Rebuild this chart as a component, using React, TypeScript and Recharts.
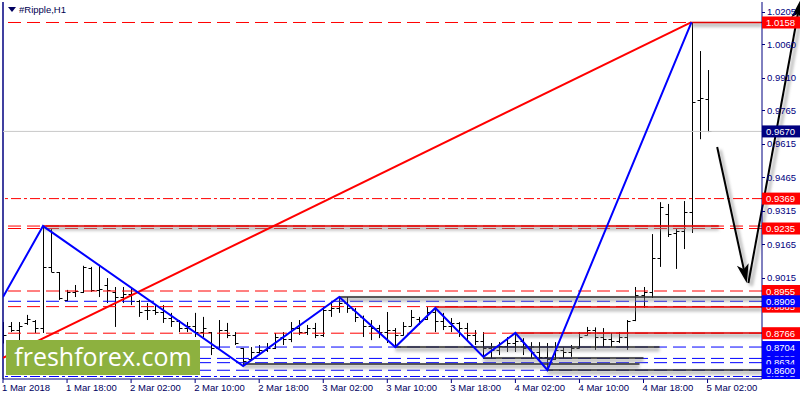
import React from 'react';
import { ComposedChart, Bar, Line, XAxis, YAxis, ReferenceLine } from 'recharts';

// ---------- data ----------
const opens = [
  0.8790, 0.8800, 0.8780, 0.8810, 0.8820, 0.8790, 0.9063, 0.9040, 0.8915, 0.8950,
  0.8950, 0.9059, 0.8960, 0.8980, 0.8950, 0.8930, 0.8940, 0.8910, 0.8870, 0.8870,
  0.8860, 0.8835, 0.8820, 0.8790, 0.8800, 0.8770, 0.8770, 0.8700, 0.8780, 0.8760,
  0.8700, 0.8650, 0.8680, 0.8690, 0.8700, 0.8750, 0.8740, 0.8790, 0.8770, 0.8790,
  0.8760, 0.8870, 0.8880, 0.8900, 0.8870, 0.8840, 0.8800, 0.8790, 0.8770, 0.8780,
  0.8760, 0.8800, 0.8830, 0.8830, 0.8860, 0.8820, 0.8800, 0.8810, 0.8790, 0.8760,
  0.8730, 0.8700, 0.8690, 0.8710, 0.8720, 0.8730, 0.8700, 0.8680, 0.8660, 0.8650,
  0.8690, 0.8680, 0.8700, 0.8760, 0.8780, 0.8750, 0.8740, 0.8730, 0.8750, 0.8825,
  0.8937, 0.8950, 0.9103, 0.9300, 0.9215, 0.9225, 0.9309, 0.9810, 0.9815,
];
const highs = [
  0.8816, 0.8816, 0.8816, 0.8848, 0.8825, 0.9246, 0.9237, 0.9040, 0.8960, 0.8982,
  0.9068, 0.9063, 0.9072, 0.9013, 0.8973, 0.8973, 0.8969, 0.8915, 0.8901, 0.8892,
  0.8892, 0.8857, 0.8825, 0.8816, 0.8857, 0.8839, 0.8771, 0.8825, 0.8812, 0.8771,
  0.8700, 0.8704, 0.8713, 0.8722, 0.8767, 0.8771, 0.8816, 0.8825, 0.8803, 0.8812,
  0.8883, 0.8906, 0.8928, 0.8928, 0.8879, 0.8845, 0.8825, 0.8803, 0.8861, 0.8789,
  0.8816, 0.8870, 0.8839, 0.8883, 0.8879, 0.8857, 0.8834, 0.8816, 0.8812, 0.8780,
  0.8771, 0.8722, 0.8726, 0.8749, 0.8767, 0.8744, 0.8726, 0.8726, 0.8722, 0.8726,
  0.8704, 0.8713, 0.8771, 0.8794, 0.8792, 0.8789, 0.8767, 0.8771, 0.8825, 0.8973,
  0.8973, 0.9210, 0.9353, 0.9345, 0.9237, 0.9358, 1.0160, 1.0030, 0.9945,
];
const lows = [
  0.8720, 0.8771, 0.8735, 0.8803, 0.8767, 0.8767, 0.9040, 0.8915, 0.8910, 0.8928,
  0.8946, 0.8951, 0.8928, 0.8901, 0.8794, 0.8901, 0.8892, 0.8839, 0.8825, 0.8848,
  0.8812, 0.8794, 0.8771, 0.8771, 0.8749, 0.8749, 0.8668, 0.8700, 0.8744, 0.8713,
  0.8619, 0.8645, 0.8668, 0.8682, 0.8695, 0.8713, 0.8726, 0.8758, 0.8758, 0.8744,
  0.8749, 0.8839, 0.8857, 0.8857, 0.8816, 0.8749, 0.8735, 0.8744, 0.8722, 0.8704,
  0.8755, 0.8798, 0.8803, 0.8825, 0.8771, 0.8780, 0.8771, 0.8749, 0.8735, 0.8713,
  0.8660, 0.8655, 0.8668, 0.8682, 0.8682, 0.8668, 0.8655, 0.8637, 0.8601, 0.8646,
  0.8655, 0.8660, 0.8698, 0.8755, 0.8691, 0.8704, 0.8704, 0.8722, 0.8691, 0.8820,
  0.8879, 0.8924, 0.9063, 0.9197, 0.9054, 0.9143, 0.9215, 0.9635, 0.9667,
];
const closes = [
  0.8760, 0.8780, 0.8800, 0.8830, 0.8790, 0.9063, 0.9040, 0.8924, 0.8950, 0.8955,
  0.9063, 0.8960, 0.8965, 0.8960, 0.8930, 0.8940, 0.8910, 0.8861, 0.8870, 0.8860,
  0.8835, 0.8820, 0.8790, 0.8800, 0.8770, 0.8790, 0.8700, 0.8780, 0.8760, 0.8720,
  0.8640, 0.8680, 0.8690, 0.8700, 0.8750, 0.8740, 0.8790, 0.8770, 0.8790, 0.8760,
  0.8870, 0.8880, 0.8900, 0.8880, 0.8840, 0.8800, 0.8790, 0.8770, 0.8780, 0.8760,
  0.8800, 0.8840, 0.8820, 0.8860, 0.8820, 0.8800, 0.8810, 0.8790, 0.8760, 0.8730,
  0.8700, 0.8690, 0.8710, 0.8720, 0.8730, 0.8700, 0.8680, 0.8660, 0.8650, 0.8690,
  0.8680, 0.8700, 0.8750, 0.8780, 0.8750, 0.8740, 0.8730, 0.8750, 0.8820, 0.8937,
  0.8950, 0.9103, 0.9331, 0.9210, 0.9225, 0.9309, 0.9802, 0.9820, 0.9670,
];

const tickBars = [0, 8, 16, 24, 32, 40, 48, 56, 64, 72, 80, 88];
const tickLabels = [
  '1 Mar 2018', '1 Mar 18:00', '2 Mar 02:00', '2 Mar 10:00', '2 Mar 18:00', '3 Mar 02:00',
  '3 Mar 10:00', '3 Mar 18:00', '4 Mar 02:00', '4 Mar 10:00', '4 Mar 18:00', '5 Mar 02:00',
];
const priceTicks = [1.0205, 1.006, 0.991, 0.9765, 0.9615, 0.9465, 0.9315, 0.9165, 0.9015];

// zigzag (blue) and trend (red)
const zigzagBars = [0, 5, 30, 42, 49, 54, 60, 64, 68, 86];
const zigzagPrices = [0.8928, 0.9246, 0.8619, 0.8928, 0.8704, 0.8879, 0.866, 0.8767, 0.8601, 1.016];
const trendBars = [0, 86];
const trendPrices = [0.8655, 1.016];

// horizontal levels
const redDashedLevels = [1.0158, 0.9246, 0.9235, 0.8955, 0.8885, 0.8766];
const blueDashedLevels = [0.8909, 0.8704, 0.8653, 0.8634, 0.86];
const redDashDotLevels = [0.9369];
const blueDashDotLevels = [0.8572];
const currentPrice = 0.967;

// price boxes on the scale (drawing order)
const redBoxes = [1.0158, 0.9369, 0.9235, 0.8955, 0.8885, 0.8766];
const blueBoxes = [0.8909, 0.8704, 0.8653, 0.8634, 0.8572, 0.86];
const navyBoxes = [0.967];
const boxOrder = [1.0158, 0.967, 0.9369, 0.9235, 0.8955, 0.8885, 0.8909, 0.8766, 0.8704, 0.8653, 0.8634, 0.8572, 0.86];

// horizontal rays with shadow: [fromBar, toBar, price]
const redRayFrom = [5, 86, 54, 64];
const redRayTo = [89.4, 94.8, 94.8, 94.8];
const redRayPrice = [0.9246, 1.0158, 0.8883, 0.8767];
const darkRayFrom = [42, 49, 60, 30, 68];
const darkRayTo = [94.8, 82, 80, 79.5, 94.8];
const darkRayPrice = [0.8928, 0.8704, 0.8655, 0.8628, 0.8601];

// arrows: [fromBar, fromPrice, toBar, toPrice]
const arrowFromBar = [89.2, 93.1];
const arrowFromPrice = [0.96, 0.8991];
const arrowToBar = [92.9, 99.6];
const arrowToPrice = [0.8991, 1.0259];

const candles = opens.map((o, i) => ({ i, o, h: highs[i], l: lows[i], c: closes[i] }));
const zigzag = zigzagBars.map((i, k) => ({ i, p: zigzagPrices[k] }));
const trend = trendBars.map((i, k) => ({ i, p: trendPrices[k] }));

// ---------- styles ----------
const RED = '#ff0000';
const BLUE = '#0000ff';
const NAVY = '#000080';
const FONT = '"Liberation Sans", Arial, sans-serif';
const DASH = '13 6';
const DASHDOT = '10 3 3 3';

const OhlcShape = (props: any) => {
  const { x, y, width, height, payload } = props;
  if (!payload || x == null || y == null) return null;
  const top = height < 0 ? y + height : y;
  const h = Math.max(Math.abs(height), 1);
  const cx = Math.round(x + width / 2) + 0.5;
  const range = payload.h - payload.l;
  const yOf = (v: number) => (range > 0 ? top + ((payload.h - v) / range) * h : top);
  const yo = Math.round(yOf(payload.o)) + 0.5;
  const yc = Math.round(yOf(payload.c)) + 0.5;
  return (
    <g>
      <line x1={cx} x2={cx} y1={top} y2={top + h} stroke="#000" strokeWidth={1} />
      <line x1={cx - 3} x2={cx} y1={yo} y2={yo} stroke="#000" strokeWidth={1} />
      <line x1={cx} x2={cx + 3} y1={yc} y2={yc} stroke="#000" strokeWidth={1} />
    </g>
  );
};

const BlurDefs = () => (
  <defs>
    <filter id="softShadow" filterUnits="userSpaceOnUse" x="0" y="0" width="800" height="400">
      <feGaussianBlur stdDeviation="1.6" />
    </filter>
  </defs>
);

const makeRay = (color: string) => (props: any) => {
  const { x1, y1, x2, y2 } = props;
  if (x1 == null) return null;
  return (
    <g>
      <BlurDefs />
      <line x1={x1} y1={y1 + 2.5} x2={x2} y2={y2 + 2.5} stroke="#8a8a8a" strokeWidth={4} strokeOpacity={0.55} filter="url(#softShadow)" />
      <line x1={x1} y1={y1} x2={x2} y2={y2} stroke={color} strokeWidth={1.5} />
    </g>
  );
};
const RedRay = makeRay('#e00000');
const DarkRay = makeRay('#2a2a2a');

const ArrowShape = (props: any) => {
  const { x1, y1, x2, y2 } = props;
  if (x1 == null) return null;
  const dx = x2 - x1;
  const dy = y2 - y1;
  const len = Math.hypot(dx, dy) || 1;
  const ux = dx / len;
  const uy = dy / len;
  const hl = 19;
  const hw = 6;
  const bx = x2 - ux * hl;
  const by = y2 - uy * hl;
  const px = -uy * hw;
  const py = ux * hw;
  const nx = x2 - ux * (hl - 5);
  const ny = y2 - uy * (hl - 5);
  const head = `${x2},${y2} ${bx + px},${by + py} ${nx},${ny} ${bx - px},${by - py}`;
  const sx = 3;
  const sy = 3;
  const headS = `${x2 + sx},${y2 + sy} ${bx + px + sx},${by + py + sy} ${nx + sx},${ny + sy} ${bx - px + sx},${by - py + sy}`;
  return (
    <g>
      <BlurDefs />
      <g filter="url(#softShadow)" opacity={0.5}>
        <line x1={x1 + sx} y1={y1 + sy} x2={nx + sx} y2={ny + sy} stroke="#777" strokeWidth={3} />
        <polygon points={headS} fill="#777" />
      </g>
      <line x1={x1} y1={y1} x2={nx} y2={ny} stroke="#000" strokeWidth={2} />
      <polygon points={head} fill="#000" />
    </g>
  );
};

const boxColor = (v: number): string | null => {
  if (navyBoxes.includes(v)) return NAVY;
  if (redBoxes.includes(v)) return RED;
  if (blueBoxes.includes(v)) return BLUE;
  return null;
};

const YTick = (props: any) => {
  const { x, y, payload } = props;
  const v = payload.value as number;
  const col = boxColor(v);
  const axisX = x - 5;
  if (col) {
    const cy = Math.min(y, 373);
    return (
      <g>
        <rect x={axisX} y={cy - 6} width={38} height={12} fill={col} />
        <text x={axisX + 4} y={cy + 3.5} fill="#fff" fontSize={9.5} fontFamily={FONT}>
          {v.toFixed(4)}
        </text>
      </g>
    );
  }
  return (
    <g>
      <line x1={axisX} x2={axisX + 3} y1={Math.round(y) + 0.5} y2={Math.round(y) + 0.5} stroke={NAVY} />
      <text x={x} y={y + 3.5} fill={NAVY} fontSize={9.5} fontFamily={FONT}>
        {v.toFixed(4)}
      </text>
    </g>
  );
};

const XTick = (props: any) => {
  const { x, y, payload } = props;
  const idx = tickBars.indexOf(payload.value);
  return (
    <text x={x - 1} y={y + 6} fill="#000060" fontSize={9.5} fontFamily={FONT}>
      {idx >= 0 ? tickLabels[idx] : ''}
    </text>
  );
};

export default function App() {
  return (
    <div style={{ position: 'absolute', left: 0, top: 0, width: 800, height: 400, background: '#fff', overflow: 'hidden' }}>
      <ComposedChart width={800} height={400} data={candles} margin={{ top: 2, right: 0, bottom: 0, left: 3 }}>
        <XAxis
          dataKey="i"
          type="number"
          domain={[0, 94.8]}
          allowDataOverflow
          ticks={tickBars}
          interval={0}
          height={21}
          axisLine={{ stroke: NAVY }}
          tickLine={{ stroke: NAVY }}
          tickSize={4}
          tickMargin={2}
          tick={<XTick />}
        />
        <YAxis
          orientation="right"
          type="number"
          domain={[0.85608, 1.02498]}
          allowDataOverflow
          ticks={[...priceTicks, ...boxOrder]}
          interval={0}
          width={38}
          axisLine={{ stroke: NAVY }}
          tickLine={false}
          tickSize={3}
          tickMargin={2}
          tick={<YTick />}
        />

        <ReferenceLine x={0} stroke={NAVY} strokeWidth={1.5} ifOverflow="visible" />
        <ReferenceLine y={currentPrice} stroke="#c8c8c8" strokeWidth={1} />
        {redDashedLevels.map((p) => (
          <ReferenceLine key={'rd' + p} y={p} stroke={RED} strokeDasharray={DASH} strokeWidth={1} />
        ))}
        {blueDashedLevels.map((p) => (
          <ReferenceLine key={'bd' + p} y={p} stroke={BLUE} strokeDasharray={DASH} strokeWidth={1} />
        ))}
        {redDashDotLevels.map((p) => (
          <ReferenceLine key={'rdd' + p} y={p} stroke={RED} strokeDasharray={DASHDOT} strokeWidth={1} />
        ))}
        {blueDashDotLevels.map((p) => (
          <ReferenceLine key={'bdd' + p} y={p} stroke={BLUE} strokeDasharray={DASHDOT} strokeWidth={1} />
        ))}
        {darkRayPrice.map((p, k) => (
          <ReferenceLine
            key={'dr' + k}
            segment={[{ x: darkRayFrom[k], y: p }, { x: darkRayTo[k], y: p }]}
            ifOverflow="visible"
            shape={DarkRay}
          />
        ))}
        {redRayPrice.map((p, k) => (
          <ReferenceLine
            key={'rr' + k}
            segment={[{ x: redRayFrom[k], y: p }, { x: redRayTo[k], y: p }]}
            ifOverflow="visible"
            shape={RedRay}
          />
        ))}

        <Bar
          dataKey={(d: any) => [d.l, d.h]}
          barSize={6}
          shape={<OhlcShape />}
          isAnimationActive={false}
        />
        <Line
          data={trend}
          dataKey="p"
          type="linear"
          stroke={RED}
          strokeWidth={2}
          dot={false}
          activeDot={false}
          isAnimationActive={false}
        />
        <Line
          data={zigzag}
          dataKey="p"
          type="linear"
          stroke={BLUE}
          strokeWidth={2}
          dot={false}
          activeDot={false}
          isAnimationActive={false}
        />

        {arrowFromBar.map((b, k) => (
          <ReferenceLine
            key={'ar' + k}
            segment={[{ x: b, y: arrowFromPrice[k] }, { x: arrowToBar[k], y: arrowToPrice[k] }]}
            ifOverflow="visible"
            shape={ArrowShape}
          />
        ))}
      </ComposedChart>

      <div
        style={{
          position: 'absolute',
          left: 8,
          top: 4,
          display: 'flex',
          alignItems: 'center',
          fontFamily: FONT,
          fontSize: 9.5,
          color: '#000050',
        }}
      >
        <span
          style={{
            display: 'inline-block',
            width: 0,
            height: 0,
            borderLeft: '4px solid transparent',
            borderRight: '4px solid transparent',
            borderTop: '5px solid #000060',
            marginRight: 3,
          }}
        />
        <span>#Ripple,H1</span>
      </div>

      <div
        style={{
          position: 'absolute',
          left: 6,
          top: 340,
          width: 194,
          height: 35,
          background: '#8db13f',
          color: '#fff',
          fontFamily: '"Open Sans", sans-serif',
          fontSize: 25,
          lineHeight: '33px',
          textAlign: 'center',
          whiteSpace: 'nowrap',
        }}
      >
        freshforex.com
      </div>
    </div>
  );
}
